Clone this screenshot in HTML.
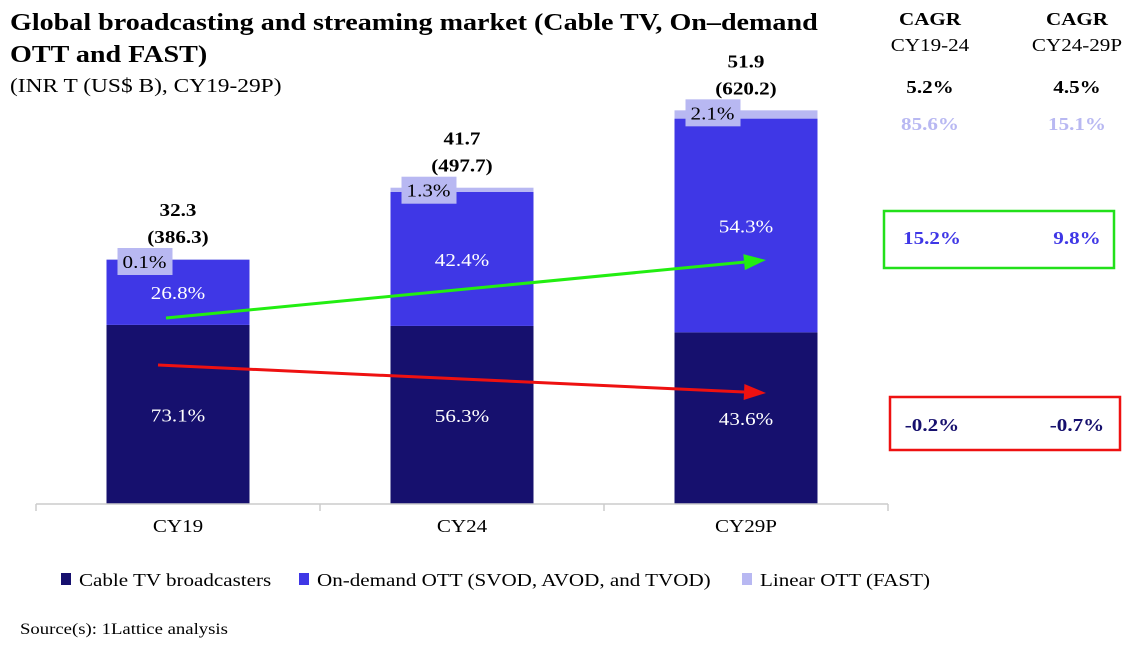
<!DOCTYPE html>
<html><head><meta charset="utf-8"><style>
body{margin:0;background:#fff;}
svg{display:block;font-family:"Liberation Serif",serif;}
</style></head><body>
<svg id="c" width="1140" height="650" viewBox="0 0 1140 650">
<text x="10" y="30" font-size="24" font-weight="bold" fill="#000">Global broadcasting and streaming market (Cable TV, On–demand</text>
<text x="10" y="62" font-size="24" font-weight="bold" fill="#000">OTT and FAST)</text>
<text x="10" y="92" font-size="20" fill="#000">(INR T (US$ B), CY19-29P)</text>
<g font-size="18" text-anchor="middle">
<text x="930" y="25" font-weight="bold">CAGR</text>
<text x="930" y="51">CY19-24</text>
<text x="1077" y="25" font-weight="bold">CAGR</text>
<text x="1077" y="51">CY24-29P</text>
<text x="930" y="93" font-weight="bold">5.2%</text>
<text x="1077" y="93" font-weight="bold">4.5%</text>
<text x="930" y="130" font-weight="bold" fill="#b8b8f2">85.6%</text>
<text x="1077" y="130" font-weight="bold" fill="#b8b8f2">15.1%</text>
</g>
<rect x="884" y="211" width="230" height="57" fill="none" stroke="#22e01a" stroke-width="2.5"/>
<text x="932" y="244" font-size="18" font-weight="bold" fill="#3f37e6" text-anchor="middle">15.2%</text>
<text x="1077" y="244" font-size="18" font-weight="bold" fill="#3f37e6" text-anchor="middle">9.8%</text>
<rect x="890" y="397" width="230" height="53" fill="none" stroke="#ee1111" stroke-width="2.5"/>
<text x="932" y="431" font-size="18" font-weight="bold" fill="#16106e" text-anchor="middle">-0.2%</text>
<text x="1077" y="431" font-size="18" font-weight="bold" fill="#16106e" text-anchor="middle">-0.7%</text>
<g id="plot"></g>
<g font-size="18" fill="#000">
<rect x="61" y="573" width="10" height="12" fill="#16106e"/>
<text x="79" y="586">Cable TV broadcasters</text>
<rect x="299" y="573" width="10" height="12" fill="#3f37e6"/>
<text x="317" y="586">On-demand OTT (SVOD, AVOD, and TVOD)</text>
<rect x="742" y="573" width="10" height="12" fill="#b8b8f2"/>
<text x="760" y="586">Linear OTT (FAST)</text>
</g>
<text x="20" y="634" font-size="16">Source(s): 1Lattice analysis</text>
</svg>
<script>
const categories=["CY19","CY24","CY29P"];
const totalsINR=[32.3,41.7,51.9];
const totalsUSD=["386.3","497.7","620.2"];
const cableShare=[73.1,56.3,43.6];
const ottShare=[26.8,42.4,54.3];
const fastShare=[0.1,1.3,2.1];

const NS="http://www.w3.org/2000/svg";
const plot=document.getElementById('plot');
const base=504, scale=7.585, x0=36, band=284, barW=143;
const y=v=>base-v*scale;
const xc=i=>x0+band*(i+0.5);
function mk(t,a,p){const e=document.createElementNS(NS,t);for(const k in a)e.setAttribute(k,a[k]);(p||plot).appendChild(e);return e;}
categories.forEach((c,i)=>{
  const tot=totalsINR[i], cx=xc(i), bx=cx-barW/2;
  const cV=tot*cableShare[i]/100, oV=tot*ottShare[i]/100, fV=tot*fastShare[i]/100;
  let r=mk('rect',{x:bx,y:y(cV),width:barW,height:cV*scale,fill:'#16106e'});
  
  
  r=mk('rect',{x:bx,y:y(cV+oV),width:barW,height:oV*scale,fill:'#3f37e6'});
  
  
  r=mk('rect',{x:bx,y:y(tot),width:barW,height:Math.max(fV*scale,1),fill:'#b8b8f2'});
  
  
  let t=mk('text',{x:cx,y:(y(cV)+base)/2+7,fill:'#fff','font-size':18,'text-anchor':'middle'});t.textContent=cableShare[i].toFixed(1)+'%';
  
  
  t=mk('text',{x:cx,y:(y(cV)+y(cV+oV))/2+7,fill:'#fff','font-size':18,'text-anchor':'middle'});t.textContent=ottShare[i].toFixed(1)+'%';
  
  
  const ty=y(tot);
  r=mk('rect',{x:bx+11,y:ty-11,width:55,height:27,fill:'#b8b8f2'});
  
  
  t=mk('text',{x:bx+38,y:ty+9,fill:'#000','font-size':18,'text-anchor':'middle'});t.textContent=fastShare[i].toFixed(1)+'%';
  
  
  t=mk('text',{x:cx,y:ty-43,'font-size':18,'font-weight':'bold','text-anchor':'middle'});t.textContent=tot.toFixed(1);
  
  
  t=mk('text',{x:cx,y:ty-16,'font-size':18,'font-weight':'bold','text-anchor':'middle'});t.textContent='('+totalsUSD[i]+')';
  
  
  t=mk('text',{x:cx,y:532,'font-size':18,'text-anchor':'middle'});t.textContent=c;
  
  
});
let ax=mk('line',{x1:x0,x2:x0+band*3,y1:base,y2:base,stroke:'#ccc','stroke-width':1.5});


for(let k=0;k<=3;k++){let tk=mk('line',{x1:x0+band*k,x2:x0+band*k,y1:base,y2:base+7,stroke:'#ccc','stroke-width':1.5});

}
function arrow(x1,y1,x2,y2,col,name){
  const g=mk('g',{});
  
  
  const a=Math.atan2(y2-y1,x2-x1),L=22,W=8;
  const bxp=x2-L*Math.cos(a),byp=y2-L*Math.sin(a);
  mk('line',{x1,y1,x2:bxp,y2:byp,stroke:col,'stroke-width':3},g);
  mk('polygon',{points:`${x2},${y2} ${bxp+W*Math.sin(a)},${byp-W*Math.cos(a)} ${bxp-W*Math.sin(a)},${byp+W*Math.cos(a)}`,fill:col},g);
}
arrow(166,318,766,260,'#22ee11','ott-growth-arrow');
arrow(158,365,766,393,'#ee1111','cable-decline-arrow');
// reference glyphs are ~1.17x wider than Liberation Serif
document.querySelectorAll('#c text').forEach(t=>{
  const w=t.getComputedTextLength();
  t.setAttribute('textLength',(w*1.17).toFixed(1));
  t.setAttribute('lengthAdjust','spacingAndGlyphs');
});
</script>
</body></html>
